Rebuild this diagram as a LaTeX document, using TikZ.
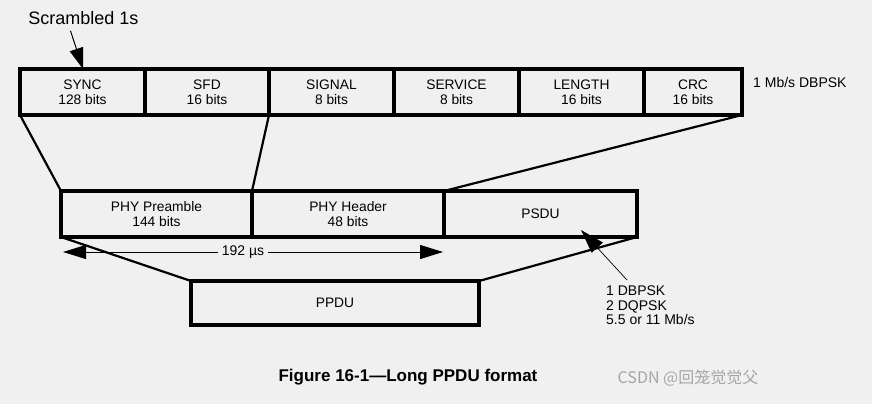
\documentclass[tikz,border=0pt]{standalone}
\usepackage{fontspec}
\setmainfont{Liberation Sans}
\newfontfamily\cjkfont{Noto Sans CJK SC}
\usetikzlibrary{arrows.meta}
\definecolor{bggray}{RGB}{240,240,240}
\tikzstyle{field}=[rectangle, draw=black, line width=3.2pt, outer sep=0pt, inner sep=0pt, minimum height=46pt, align=center, font=\fontsize{13.8}{14.5}\selectfont, anchor=center]
\tikzstyle{annot}=[align=left, inner sep=0pt, font=\fontsize{14}{14.2}\selectfont]
\tikzstyle{link}=[line width=2.2pt]
\tikzstyle{pointer}=[line width=1pt, -{Triangle[length=21pt,width=14pt]}]

\begin{document}
\begin{tikzpicture}[x=1pt, y=-1pt]
	\fill[bggray] (0,0) rectangle (872,404);
	\useasboundingbox (0,0) rectangle (872,404);

	% header fields
	\node[field, minimum width=125pt](sync) at (82.5,92){SYNC\\128 bits};
	\node[field, minimum width=124pt](sfd) at (207,92){SFD\\16 bits};
	\node[field, minimum width=125pt](signal) at (331.5,92){SIGNAL\\8 bits};
	\node[field, minimum width=125pt](service) at (456.5,92){SERVICE\\8 bits};
	\node[field, minimum width=125pt](length) at (581.5,92){LENGTH\\16 bits};
	\node[field, minimum width=98pt](crc) at (693,92){CRC\\16 bits};
	\node[annot, anchor=west] (rate) at (753,82) {1 Mb/s DBPSK};

	\node[annot, font=\fontsize{18}{20}\selectfont] (scr) at (83.5,18) {Scrambled 1s};
	\coordinate (scrtip) at ([xshift=63pt]sync.north west);
	\draw[pointer] ([xshift=-13pt,yshift=-6pt]scr.south) -- (scrtip);

	% PPDU parts
	\node[field, minimum width=191pt](pre) at (156.5,214){PHY Preamble\\144 bits};
	\node[field, minimum width=192pt](hdr) at (348,214){PHY Header\\48 bits};
	\node[field, minimum width=193pt](psdu) at (540.5,214){PSDU};
	\node[field, minimum width=288pt, minimum height=44pt](ppdu) at (335,303){PPDU};

	\draw[link] (sync.south west) -- (pre.north west);
	\draw[link] (signal.south west) -- (hdr.north west);
	\draw[link] (crc.south east) -- (psdu.north west);
	\draw[link] (pre.south west) -- (ppdu.north west);
	\draw[link] (psdu.south east) -- (ppdu.north east);

	% 192 us span
	\node[annot, fill=bggray, inner xsep=4pt] (span) at (243,252) {192 µs};
	\coordinate (spanl) at ([xshift=2pt,yshift=-15pt]pre.south west);
	\coordinate (spanr) at ([xshift=-1pt,yshift=-15pt]hdr.south east);
	\draw[line width=1pt, -{Triangle[length=23pt,width=14pt]}] (span.west) -- (spanl);
	\draw[line width=1pt, -{Triangle[length=23pt,width=14pt]}] (span.east) -- (spanr);

	% modulation note
	\node[annot, anchor=north west] (mods) at (606,286) {1 DBPSK\\2 DQPSK\\5.5 or 11 Mb/s};
	\coordinate (modtip) at (581,230);
	\draw[pointer, line width=0.7pt, -{Triangle[length=24pt,width=15pt]}] ([xshift=21pt,yshift=6pt]mods.north west) -- (modtip);

	\node[font=\fontsize{17}{19}\selectfont\bfseries] (title) at (408,377) {Figure 16-1—Long PPDU format};
	\node[font=\fontsize{16}{18}\selectfont\cjkfont, text=black!35] (mark) at (688,378) {CSDN @回笼觉觉父};
\end{tikzpicture}
\end{document}
